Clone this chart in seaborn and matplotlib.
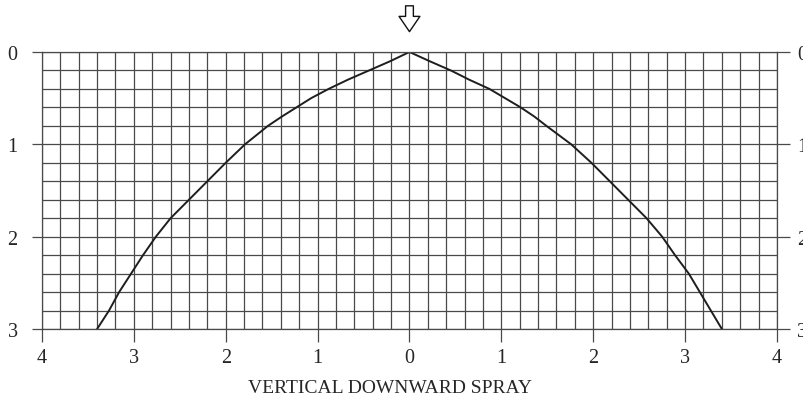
import numpy as np
import pandas as pd
import matplotlib
matplotlib.use("Agg")
import matplotlib.pyplot as plt
import seaborn as sns
from matplotlib.ticker import MultipleLocator, FuncFormatter

# spray envelope: depth (down) vs. horizontal distance
depth = [0, 0.1, 0.2, 0.3, 0.4, 0.5, 0.6, 0.7, 0.8, 1.0, 1.2, 1.4, 1.6, 1.8,
         2.0, 2.2, 2.4, 2.6, 2.8, 3.0]
left_x = [0, -0.21, -0.44, -0.67, -0.88, -1.07, -1.23, -1.39, -1.54, -1.79, -2.0,
          -2.2, -2.4, -2.6, -2.76, -2.9, -3.03, -3.16, -3.27, -3.4]
right_x = [0, 0.22, 0.45, 0.65, 0.87, 1.04, 1.21, 1.36, 1.49, 1.76, 1.98,
           2.18, 2.38, 2.58, 2.75, 2.89, 3.04, 3.16, 3.28, 3.4]
x_ticks = [-4, -3, -2, -1, 0, 1, 2, 3, 4]
y_ticks = [0, 1, 2, 3]
title = "VERTICAL DOWNWARD SPRAY"

df = pd.DataFrame({
    "x": left_x[::-1] + right_x[1:],
    "y": depth[::-1] + depth[1:],
})

sns.set_theme(style="white")
plt.rcParams["font.family"] = ["Liberation Serif", "DejaVu Serif"]

grid_col = "#4a4a4a"
fig = plt.figure(figsize=(8.04, 4.06), dpi=100)
ax = fig.add_axes([0.0522, 0.1872, 0.9142, 0.6823])

sns.lineplot(data=df, x="x", y="y", sort=False, color="#1e1e1e", lw=1.4, ax=ax)

ax.set_xlim(-4, 4)
ax.set_ylim(3, 0)
ax.set_xticks(x_ticks)
ax.set_yticks(y_ticks)
ax.xaxis.set_minor_locator(MultipleLocator(0.2))
ax.yaxis.set_minor_locator(MultipleLocator(0.2))
ax.xaxis.set_major_formatter(FuncFormatter(lambda v, p: f"{abs(v):.0f}"))
ax.grid(which="both", color=grid_col, lw=0.9)
for s in ax.spines.values():
    s.set_color(grid_col)
    s.set_linewidth(0.9)
ax.tick_params(axis="x", which="major", bottom=True, length=9.5, width=0.9,
               color=grid_col, pad=4, labelsize=14.5)
ax.tick_params(axis="y", which="major", left=True, length=7.5, width=0.9,
               color=grid_col, pad=10, labelsize=14.5)
ax.tick_params(which="minor", length=0)
ax.set_xlabel("")
ax.set_ylabel("")

ax2 = ax.twinx()
ax2.set_ylim(3, 0)
ax2.set_yticks(y_ticks)
ax2.tick_params(axis="y", right=True, length=9.5, width=0.9, color=grid_col,
                pad=5, labelsize=14.5)
ax2.grid(False)
for s in ax2.spines.values():
    s.set_visible(False)

ax.annotate("", xy=(0, -0.19), xytext=(0, -0.53), xycoords="data",
            annotation_clip=False,
            arrowprops=dict(arrowstyle="simple,head_length=0.55,head_width=0.75,tail_width=0.28",
                            mutation_scale=20, fc="white", ec="#111", lw=1.0))

fig.text(0.485, 0.044, title, ha="center", va="center", fontsize=14)

fig.savefig("out.png", dpi=100)
